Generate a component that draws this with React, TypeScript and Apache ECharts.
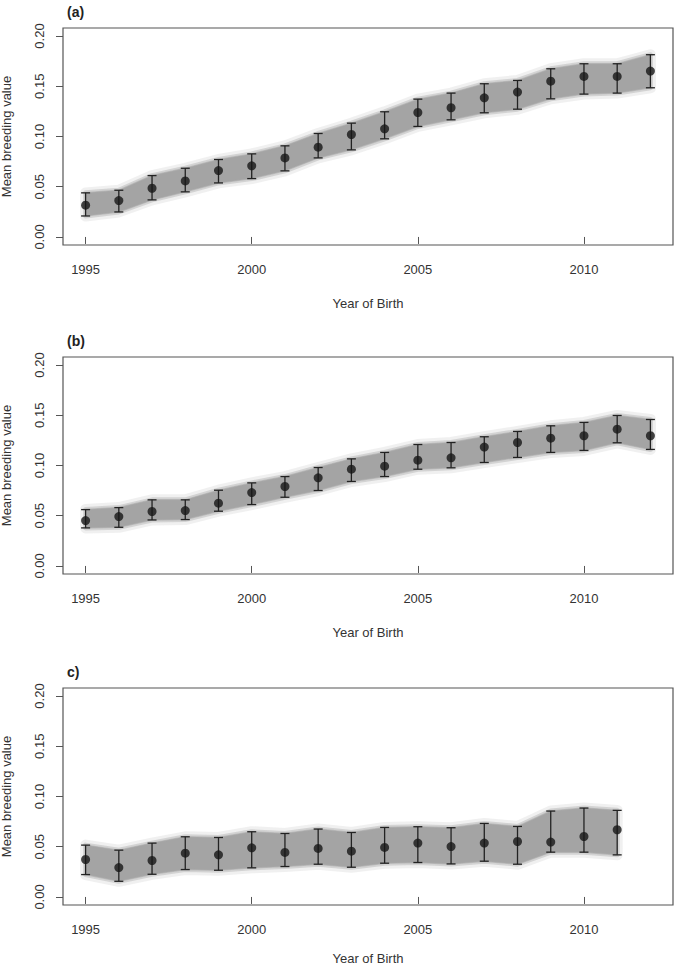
import React, { useEffect, useRef } from "react";
import * as echarts from "echarts";

// years of birth
const yearsAB = [1995, 1996, 1997, 1998, 1999, 2000, 2001, 2002, 2003, 2004, 2005, 2006, 2007, 2008, 2009, 2010, 2011, 2012];
const yearsC = [1995, 1996, 1997, 1998, 1999, 2000, 2001, 2002, 2003, 2004, 2005, 2006, 2007, 2008, 2009, 2010, 2011];

// panel (a)
const meanA = [0.0316, 0.0362, 0.0485, 0.0558, 0.0661, 0.0708, 0.0787, 0.0894, 0.102, 0.1076, 0.1239, 0.1286, 0.1385, 0.1442, 0.1551, 0.1598, 0.1598, 0.1651];
const upperA = [0.0439, 0.0465, 0.0611, 0.0684, 0.0771, 0.0827, 0.0907, 0.103, 0.1133, 0.1246, 0.1372, 0.1432, 0.1525, 0.1558, 0.1674, 0.1724, 0.1724, 0.1814];
const lowerA = [0.0209, 0.0249, 0.0369, 0.0449, 0.0538, 0.0581, 0.0658, 0.0787, 0.0867, 0.0977, 0.110, 0.1166, 0.1236, 0.1272, 0.1375, 0.1422, 0.1432, 0.1485];

// panel (b)
const meanB = [0.0452, 0.0492, 0.0542, 0.0551, 0.0625, 0.0731, 0.0791, 0.0877, 0.0963, 0.0993, 0.1053, 0.1076, 0.1183, 0.1229, 0.1272, 0.1296, 0.1362, 0.1296];
const upperB = [0.0561, 0.0581, 0.0658, 0.0658, 0.0754, 0.0827, 0.089, 0.098, 0.1066, 0.113, 0.1209, 0.1229, 0.1286, 0.1339, 0.1395, 0.1429, 0.1498, 0.1458];
const lowerB = [0.0379, 0.0385, 0.0458, 0.0462, 0.0545, 0.0611, 0.0684, 0.0751, 0.0841, 0.089, 0.0963, 0.0977, 0.103, 0.108, 0.113, 0.115, 0.1226, 0.116];

// panel (c)
const meanC = [0.0373, 0.0293, 0.0363, 0.0436, 0.0419, 0.0489, 0.0443, 0.0483, 0.0456, 0.0493, 0.0536, 0.0502, 0.0536, 0.0552, 0.0546, 0.0602, 0.0669];
const upperC = [0.0516, 0.0466, 0.0536, 0.0599, 0.0592, 0.0649, 0.0632, 0.0676, 0.0642, 0.0692, 0.0699, 0.0689, 0.0732, 0.0702, 0.0855, 0.0885, 0.0862];
const lowerC = [0.0223, 0.0156, 0.0226, 0.0273, 0.0266, 0.029, 0.0303, 0.0326, 0.0296, 0.0336, 0.0343, 0.0329, 0.0356, 0.0326, 0.0446, 0.0446, 0.0419];

const xTicks = [1995, 2000, 2005, 2010];
const yTicks = [0, 0.05, 0.1, 0.15, 0.2];
const panelLabels = ["(a)", "(b)", "c)"];

const FONT = "'Liberation Sans', Arial, Helvetica, sans-serif";

const panels = [
  { years: yearsAB, mean: meanA, lower: lowerA, upper: upperA, top: 28, xNameGap: 52 },
  { years: yearsAB, mean: meanB, lower: lowerB, upper: upperB, top: 357, xNameGap: 52 },
  { years: yearsC, mean: meanC, lower: lowerC, upper: upperC, top: 688, xNameGap: 47 },
];

const App: React.FC = () => {
  const chartRef = useRef<HTMLDivElement>(null);

  useEffect(() => {
    const chartDom = chartRef.current;
    if (!chartDom) return;
    const myChart = echarts.init(chartDom, null, { renderer: "svg" });

    const grids: any[] = [];
    const xAxes: any[] = [];
    const yAxes: any[] = [];
    const titles: any[] = [];
    const series: any[] = [];

    panels.forEach((p, i) => {
      grids.push({
        left: 63,
        top: p.top,
        width: 610,
        height: 217,
        outerBoundsMode: "none",
        containLabel: false,
        show: true,
        borderColor: "#555",
        borderWidth: 1.2,
        backgroundColor: "transparent",
      });
      titles.push({
        text: panelLabels[i],
        left: 62,
        top: p.top - 28,
        textStyle: { fontFamily: FONT, fontSize: 14, fontWeight: "bold", color: "#222" },
      });
      xAxes.push({
        type: "value",
        gridIndex: i,
        min: 1994.32,
        max: 2012.68,
        name: "Year of Birth",
        nameLocation: "middle",
        nameGap: p.xNameGap,
        nameTextStyle: { fontFamily: FONT, fontSize: 13, color: "#333" },
        axisLine: { show: false },
        splitLine: { show: false },
        axisTick: { show: true, length: 7, customValues: xTicks, lineStyle: { color: "#555" } },
        axisLabel: {
          customValues: xTicks,
          margin: 18,
          fontFamily: FONT,
          fontSize: 13,
          color: "#333",
          formatter: (v: number) => String(Math.round(v)),
        },
      });
      yAxes.push({
        type: "value",
        gridIndex: i,
        min: -0.008,
        max: 0.208,
        name: "Mean breeding value",
        nameLocation: "middle",
        nameRotate: 90,
        nameGap: 50,
        nameTextStyle: { fontFamily: FONT, fontSize: 13, color: "#333" },
        axisLine: { show: false },
        splitLine: { show: false },
        axisTick: { show: true, length: 7, customValues: yTicks, lineStyle: { color: "#555" } },
        axisLabel: {
          customValues: yTicks,
          rotate: 90,
          margin: 17,
          fontFamily: FONT,
          fontSize: 13,
          color: "#333",
          formatter: (v: number) => v.toFixed(2),
        },
      });

      // grey band of posterior samples
      series.push({
        type: "custom",
        xAxisIndex: i,
        yAxisIndex: i,
        silent: true,
        z: 1,
        data: p.years.map((y, k) => [y, p.lower[k], p.upper[k]]),
        encode: { x: 0, y: [1, 2] },
        renderItem: (params: any, api: any) => {
          if (params.dataIndex !== 0) return null;
          const top = p.years.map((y, k) => api.coord([y, p.upper[k]]));
          const bot = p.years.map((y, k) => api.coord([y, p.lower[k]])).reverse();
          const pts = top.concat(bot);
          return {
            type: "group",
            children: [
              {
                type: "polygon",
                shape: { points: pts },
                style: { fill: "rgba(225,225,225,0.5)", stroke: "rgba(228,228,228,0.55)", lineWidth: 11, lineJoin: "round" },
              },
              {
                type: "polygon",
                shape: { points: pts },
                style: { fill: "rgba(195,195,195,0.6)", stroke: "rgba(192,192,192,0.6)", lineWidth: 5, lineJoin: "round" },
              },
              {
                type: "polygon",
                shape: { points: pts },
                style: { fill: "#a4a4a4", stroke: "rgba(170,170,170,0.6)", lineWidth: 1.5 },
              },
            ],
          };
        },
      });

      // error bars
      series.push({
        type: "custom",
        xAxisIndex: i,
        yAxisIndex: i,
        silent: true,
        z: 3,
        data: p.years.map((y, k) => [y, p.lower[k], p.upper[k]]),
        encode: { x: 0, y: [1, 2] },
        renderItem: (params: any, api: any) => {
          const x = api.value(0);
          const hi = api.coord([x, api.value(2)]);
          const lo = api.coord([x, api.value(1)]);
          const w = 4.5;
          const st = { stroke: "#222", lineWidth: 1.3 };
          return {
            type: "group",
            children: [
              { type: "line", shape: { x1: hi[0], y1: hi[1], x2: lo[0], y2: lo[1] }, style: st },
              { type: "line", shape: { x1: hi[0] - w, y1: hi[1], x2: hi[0] + w, y2: hi[1] }, style: st },
              { type: "line", shape: { x1: lo[0] - w, y1: lo[1], x2: lo[0] + w, y2: lo[1] }, style: st },
            ],
          };
        },
      });

      // mean points
      series.push({
        type: "scatter",
        xAxisIndex: i,
        yAxisIndex: i,
        silent: true,
        z: 4,
        symbol: "circle",
        symbolSize: 9,
        itemStyle: { color: "#161616" },
        data: p.years.map((y, k) => [y, p.mean[k]]),
      });
    });

    const option: any = {
      animation: false,
      backgroundColor: "#fff",
      title: titles,
      grid: grids,
      xAxis: xAxes,
      yAxis: yAxes,
      series: series,
    };

    myChart.setOption(option);

    return () => {
      myChart.dispose();
    };
  }, []);

  return (
    <div
      ref={chartRef}
      style={{ position: "absolute", left: 0, top: 0, width: "674px", height: "967px" }}
    />
  );
};

export default App;
